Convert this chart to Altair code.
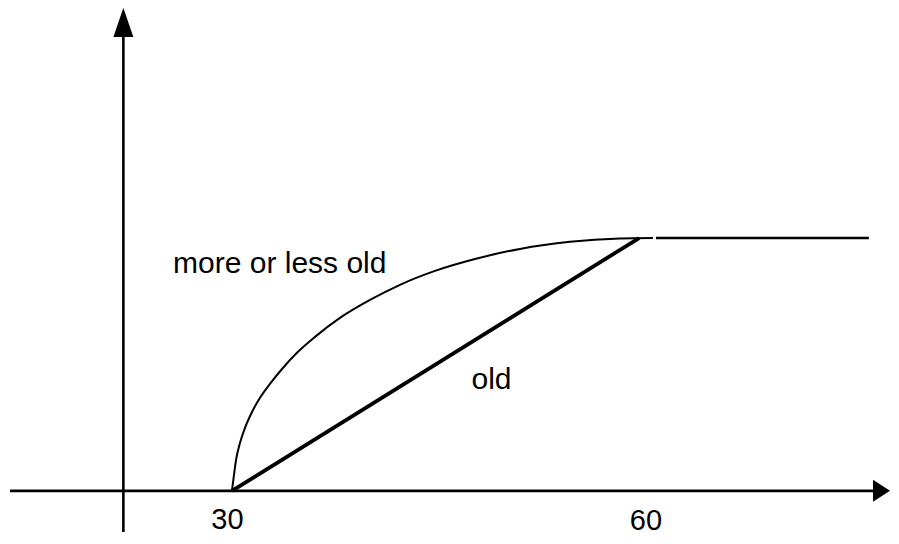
import altair as alt
import pandas as pd

# ---- data ----
# "more or less old" curve
curve_x = [30.0, 30.15, 30.30, 30.59, 30.96, 31.48, 32.07, 32.80, 33.69, 34.79,
           36.12, 37.96, 40.17, 42.38, 44.96, 47.91, 51.22, 54.91, 58.59, 61.02]
curve_y = [0.0, 0.063, 0.122, 0.189, 0.249, 0.312, 0.368, 0.423, 0.482, 0.546,
           0.609, 0.684, 0.755, 0.815, 0.870, 0.917, 0.957, 0.985, 0.998, 1.0]
# "old" straight line
old_x = [30, 60]
old_y = [0, 1]
# flat part after 60
flat_x = [61.24, 76.93]
flat_y = [1, 1]
# axes lines
xaxis_x = [13.65, 77.30]
xaxis_y = [0, 0]
yaxis_x = [22.0, 22.0]
yaxis_y = [-0.163, 1.795]
# arrow heads
arrow_up_x = [22.0]
arrow_up_y = [1.853]
arrow_right_x = [77.86]
arrow_right_y = [0]
# labels
label_text = ["more or less old", "old"]
label_x = [25.66, 47.65]
label_y = [0.861, 0.402]
tick_text = ["30", "60"]
tick_x = [29.67, 60.5]
tick_y = [-0.151, -0.1547]

XDOM = [13.5, 78.56]
YDOM = [-0.1786, 1.910]
FONT = "Liberation Sans"

xs = alt.Scale(domain=XDOM, nice=False, zero=False)
ys = alt.Scale(domain=YDOM, nice=False, zero=False)


def enc_xy():
    return dict(
        x=alt.X("x:Q", scale=xs, axis=None),
        y=alt.Y("y:Q", scale=ys, axis=None),
    )


def df(x, y, **extra):
    d = pd.DataFrame({"x": x, "y": y})
    for k, v in extra.items():
        d[k] = v
    return d


xaxis = alt.Chart(df(xaxis_x, xaxis_y)).mark_line(color="black", strokeWidth=2.6).encode(**enc_xy())
yaxis = alt.Chart(df(yaxis_x, yaxis_y)).mark_line(color="black", strokeWidth=2.6).encode(
    **enc_xy(), order=alt.Order("y:Q"))

up = alt.Chart(df(arrow_up_x, arrow_up_y)).mark_point(
    shape="M0,-1.45L1,1.45L-1,1.45Z", filled=True, size=400, color="black",
    opacity=1, strokeWidth=0).encode(**enc_xy())
right = alt.Chart(df(arrow_right_x, arrow_right_y)).mark_point(
    shape="M-1,-1.294L1,0L-1,1.294Z", filled=True, size=289, color="black",
    opacity=1, strokeWidth=0).encode(**enc_xy())

curve = alt.Chart(df(curve_x, curve_y)).mark_line(
    color="black", strokeWidth=2, interpolate="monotone").encode(**enc_xy())
old = alt.Chart(df(old_x, old_y)).mark_line(color="black", strokeWidth=3.8).encode(**enc_xy())
flat = alt.Chart(df(flat_x, flat_y)).mark_line(color="black", strokeWidth=2.4).encode(**enc_xy())

labels = alt.Chart(df(label_x, label_y, t=label_text)).mark_text(
    align="left", baseline="alphabetic", font=FONT, fontSize=30,
    color="black").encode(**enc_xy(), text="t:N")
ticks = alt.Chart(df(tick_x, tick_y, t=tick_text)).mark_text(
    align="center", baseline="alphabetic", font=FONT, fontSize=29, color="black").encode(
    **enc_xy(), text="t:N")

chart = alt.layer(xaxis, yaxis, curve, old, flat, up, right, labels, ticks).properties(
    width=883, height=528, padding=0,
    autosize=alt.AutoSizeParams(type="none"),
    background="white",
).configure_view(stroke=None)

chart.save("out.html", embed_options={"renderer": "svg", "actions": False})
